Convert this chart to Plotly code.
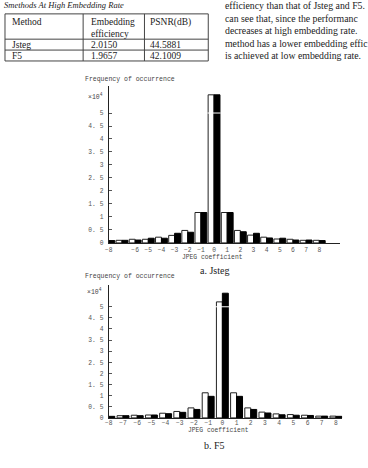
import plotly.graph_objects as go

# ---------------- data ----------------
coefficients = list(range(-8, 9))
jsteg_cover = [0.09, 0.10, 0.14, 0.14, 0.22, 0.29, 0.48, 1.17, 5.70, 1.17, 0.48, 0.30, 0.22, 0.15, 0.14, 0.10, 0.10]
jsteg_stego = [0.09, 0.10, 0.11, 0.18, 0.18, 0.37, 0.41, 1.17, 5.70, 1.17, 0.43, 0.37, 0.19, 0.18, 0.11, 0.11, 0.09]
f5_cover = [0.07, 0.10, 0.12, 0.13, 0.21, 0.29, 0.45, 1.13, 5.22, 1.13, 0.45, 0.26, 0.18, 0.15, 0.12, 0.08, 0.08]
f5_stego = [0.07, 0.10, 0.10, 0.13, 0.19, 0.25, 0.38, 0.97, 5.61, 0.97, 0.38, 0.22, 0.14, 0.12, 0.11, 0.08, 0.07]

y_tick_vals = [0, 0.5, 1, 1.5, 2, 2.5, 3, 3.5, 4, 4.5, 5]
y_tick_text = ["0", "0. 5", "1", "1. 5", "2", "2. 5", "3", "3. 5", "4", "4. 5", "5"]
jsteg_x_ticks = [-8, -6, -5, -4, -3, -2, -1, 0, 1, 2, 3, 4, 5, 6, 7, 8]
f5_x_ticks = list(range(-8, 9))

table_header = ["Method", "Embedding<br>efficiency", "PSNR(dB)"]
table_rows = [["Jsteg", "2.0150", "44.5881"], ["F5", "1.9657", "42.1009"]]
table_title = "Smethods At High Embedding Rate"
paragraph = [
    "efficiency than that of Jsteg and F5.",
    "can see that, since the performanc",
    "decreases at high embedding rate.",
    "method has a lower embedding effic",
    "is achieved at low embedding rate.",
]

W, H = 368, 468
def px(x):
    return x / W
def py(y):
    return 1 - y / H

def lab(v):
    return str(v).replace("-", "\u2212")

MONO = "Liberation Mono"
SERIF = "Liberation Serif"
TICKC = "#555"
AXC = "#222"

fig = go.Figure()
fig.add_trace(go.Bar(x=coefficients, y=jsteg_cover, width=0.45, offset=-0.45,
                     marker=dict(color="white", line=dict(color=AXC, width=1)),
                     xaxis="x", yaxis="y", showlegend=False))
fig.add_trace(go.Bar(x=coefficients, y=jsteg_stego, width=0.45, offset=0,
                     marker=dict(color="black", line=dict(color="black", width=1)),
                     xaxis="x", yaxis="y", showlegend=False))
fig.add_trace(go.Bar(x=coefficients, y=f5_cover, width=0.42, offset=-0.42,
                     marker=dict(color="white", line=dict(color=AXC, width=1)),
                     xaxis="x2", yaxis="y2", showlegend=False))
fig.add_trace(go.Bar(x=coefficients, y=f5_stego, width=0.42, offset=0,
                     marker=dict(color="black", line=dict(color="black", width=1)),
                     xaxis="x2", yaxis="y2", showlegend=False))

tickfont = dict(family=MONO, size=6.3, color=TICKC)
common_x = dict(showline=True, linecolor=AXC, linewidth=1, ticks="", showgrid=False,
                zeroline=False, tickfont=tickfont, fixedrange=True)
common_y = dict(showline=True, linecolor=AXC, linewidth=1.3, ticks="inside", ticklen=3,
                tickcolor=TICKC, tickwidth=1, showgrid=False, zeroline=False,
                tickvals=y_tick_vals, ticktext=y_tick_text, tickfont=tickfont,
                ticklabelstandoff=3, fixedrange=True)

fig.update_layout(
    width=W, height=H, margin=dict(l=0, r=0, t=0, b=0),
    paper_bgcolor="white", plot_bgcolor="white", barmode="overlay",
    xaxis=dict(domain=[px(106), px(340)], range=[-8.0, 9.6], anchor="y",
               tickvals=jsteg_x_ticks, ticktext=[lab(v) for v in jsteg_x_ticks],
               ticklabelstandoff=1, **common_x),
    yaxis=dict(domain=[py(245), py(87)], range=[0, 6.03], anchor="x", **common_y),
    xaxis2=dict(domain=[px(106), px(342)], range=[-8.0, 8.45], anchor="y2",
                tickvals=f5_x_ticks, ticktext=[lab(v) for v in f5_x_ticks],
                ticklabelstandoff=-1, **common_x),
    yaxis2=dict(domain=[py(421.5), py(287)], range=[0, 6.0], anchor="x2", **common_y),
)

shapes = []
# white line at level 5 through the center bars
for xr, yr in (("x", "y"), ("x2", "y2")):
    shapes.append(dict(type="line", xref=xr, yref=yr, x0=-0.5, x1=0.5, y0=5, y1=5,
                       line=dict(color="white", width=1)))
# table borders
tl, tr = 1, 206.5
for yy in (14, 39.5, 50.5, 61.5):
    shapes.append(dict(type="line", xref="paper", yref="paper", x0=px(tl), x1=px(tr),
                       y0=py(yy), y1=py(yy), line=dict(color="#444", width=1)))
for xx in (tl, 80, 142, tr):
    shapes.append(dict(type="line", xref="paper", yref="paper", x0=px(xx), x1=px(xx),
                       y0=py(14), y1=py(61.5), line=dict(color="#444", width=1)))
fig.update_layout(shapes=shapes)

ann = []
def text(t, x, y, size, family=SERIF, color="#222", anchor="left", **kw):
    ann.append(dict(text=t, x=px(x), y=py(y), xref="paper", yref="paper", showarrow=False,
                    xanchor=anchor, yanchor="middle", font=dict(family=family, size=size, color=color), **kw))

text("<i>" + table_title + "</i>", -2, 5, 8.5)
col_x = [6, 86, 146]
for cx, h in zip(col_x, table_header):
    ann.append(dict(text=h, x=px(cx), y=py(15), xref="paper", yref="paper", showarrow=False,
                    xanchor="left", yanchor="top", align="left",
                    font=dict(family=SERIF, size=9.5, color="#222")))
for ry, row in zip((45, 56), table_rows):
    for cx, v in zip(col_x, row):
        text(v, cx, ry, 9.5)

for i, line in enumerate(paragraph):
    text(line, 221, 6 + i * 12.6, 9.8)

# chart a labels
text("Frequency of occurrence", 80, 80, 6.5, family=MONO, color="#444")
text("\u00d710<sup>4</sup>", 83, 97, 6.5, family=MONO, color="#444")
text("JPEG coefficient", 211, 260, 6.3, family=MONO, color="#444", anchor="center")
text("a. Jsteg", 213, 272.5, 10, anchor="center")
# chart b labels
text("Frequency of occurrence", 80, 279, 6.5, family=MONO, color="#444")
text("\u00d710<sup>4</sup>", 82, 294, 6.5, family=MONO, color="#444")
text("JPEG coefficient", 217, 434, 6.3, family=MONO, color="#444", anchor="center")
text("b. F5", 213, 449, 10, anchor="center")

# arrow head on chart a y-axis
ann.append(dict(text="", x=-8.0, y=6.2, xref="x", yref="y", showarrow=True,
                ax=0, ay=14, arrowhead=2, arrowsize=1.2, arrowwidth=1.3, arrowcolor=AXC))

fig.update_layout(annotations=ann)
fig.write_html("out.html")
